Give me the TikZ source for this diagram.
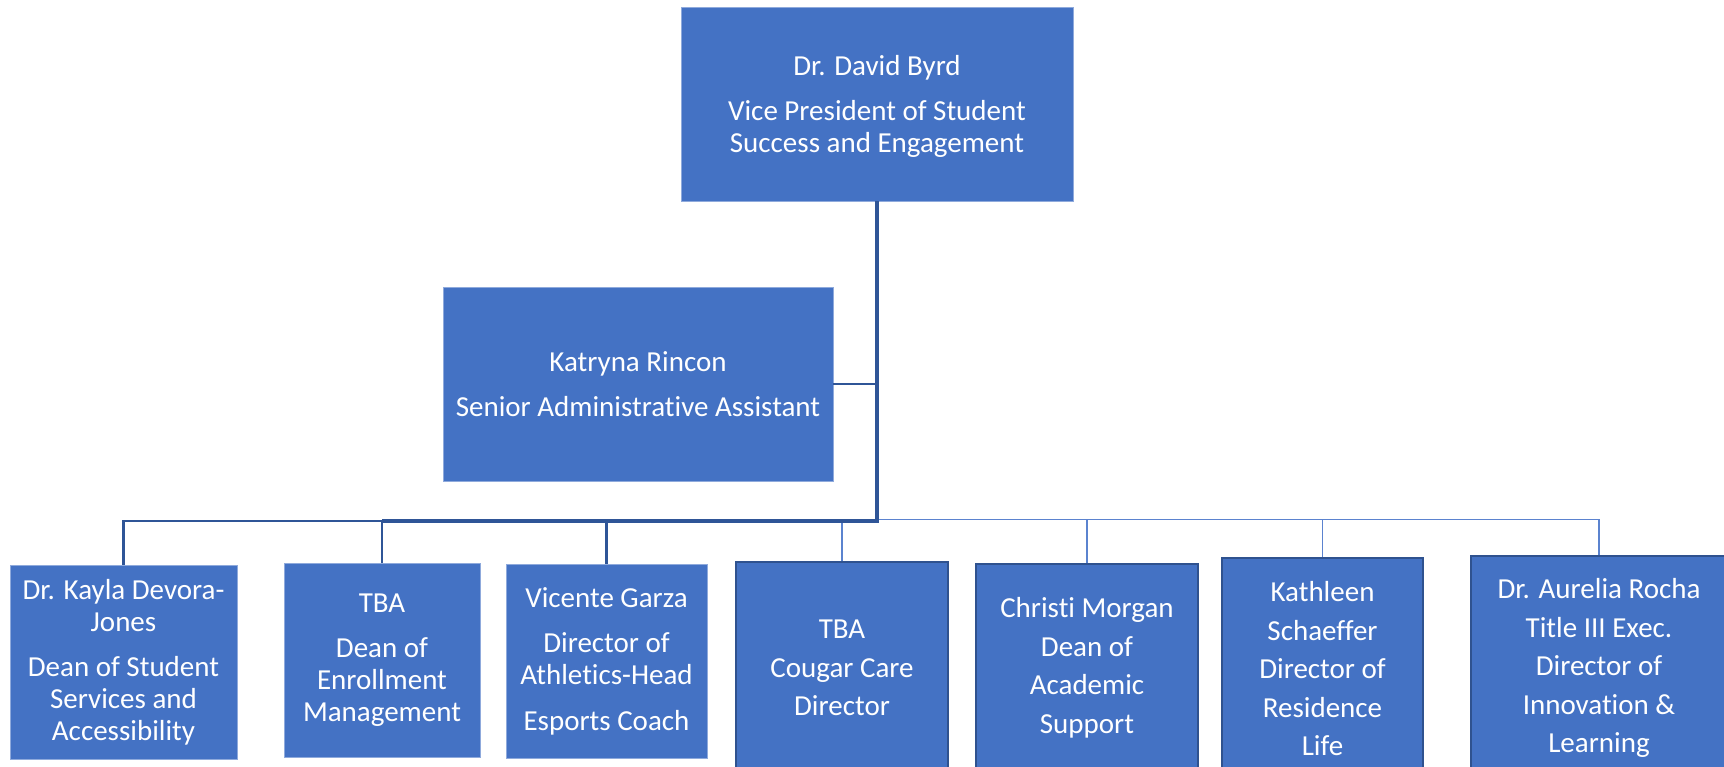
\documentclass[tikz,border=0pt]{standalone}
\usepackage{fontspec}
\setmainfont{Carlito}[Ligatures=NoCommon]
\definecolor{boxfill}{HTML}{4472C4}
\definecolor{boxedge}{HTML}{8FAADC}
\definecolor{darkedge}{HTML}{2F528F}
\definecolor{darkline}{HTML}{2F5597}
\definecolor{thinline}{HTML}{5B83CF}
\tikzset{
  orgbox/.style={rectangle, fill=boxfill, draw=boxedge, line width=0.8pt, align=center,
    text=white, inner sep=0pt, font=\fontsize{29}{32}\selectfont},
  darkbox/.style={orgbox, draw=darkedge, line width=2pt, font=\fontsize{29}{38.5}\selectfont},
  mainline/.style={draw=darkline, line width=3.5pt},
  midline/.style={draw=darkline, line width=2.5pt},
  thinconn/.style={draw=thinline, line width=1.5pt}
}
\begin{document}
\begin{tikzpicture}[x=1pt,y=-1pt]
\useasboundingbox (0,0) rectangle (1724,766);
\clip (0,0) rectangle (1724,766);

\node[orgbox, minimum width=392pt, minimum height=194pt, text depth=-4pt] (vp) at (877,104)
  {Dr. David Byrd\\[13pt]Vice President of Student\\Success and Engagement};
\node[orgbox, minimum width=390pt, minimum height=194pt] (kr) at (638,384)
  {Katryna Rincon\\[13pt]Senior Administrative Assistant};

\node[orgbox, minimum width=227pt, minimum height=194pt] (b1) at (123.5,662)
  {Dr. Kayla Devora-\\Jones\\[13pt]Dean of Student\\Services and\\Accessibility};
\node[orgbox, minimum width=196pt, minimum height=194pt] (b2) at (382,660)
  {TBA\\[13pt]Dean of\\Enrollment\\Management};
\node[orgbox, minimum width=201pt, minimum height=194pt] (b3) at (606.5,661)
  {Vicente Garza\\[13pt]Director of\\Athletics-Head\\[14pt]Esports Coach};
\node[darkbox, minimum width=212pt, minimum height=212pt] (b4) at (842,668)
  {TBA\\Cougar Care\\Director};
\node[darkbox, minimum width=222pt, minimum height=208pt] (b5) at (1087,668)
  {Christi Morgan\\Dean of\\Academic\\Support};
\node[darkbox, minimum width=201pt, minimum height=222pt] (b6) at (1322.5,669)
  {Kathleen\\Schaeffer\\Director of\\Residence\\Life};
\node[darkbox, minimum width=256pt, minimum height=224pt] (b7) at (1599,668)
  {Dr. Aurelia Rocha\\Title III Exec.\\Director of\\Innovation \&\\Learning};

\coordinate (j) at (877,521);
\coordinate (jr) at (877,519.5);

% right-hand thin bus
\draw[thinconn] (jr) -- (jr -| b7.north) -- (b7.north);
\draw[thinconn] (b4.north) -- (b4.north |- jr);
\draw[thinconn] (b5.north) -- (b5.north |- jr);
\draw[thinconn] (b6.north) -- (b6.north |- jr);

% left-hand bus
\draw[midline] (b1.north) -- (b1.north |- j) -- (j -| b2.north);
\draw[midline] (b2.north) -- (b2.north |- j);
\draw[midline] (b3.north) -- (b3.north |- j);
\draw[midline] (kr.east) -- (kr.east -| vp.south);
\draw[mainline] (vp.south) -- (j) -- (j -| b2.north);
\end{tikzpicture}
\end{document}
